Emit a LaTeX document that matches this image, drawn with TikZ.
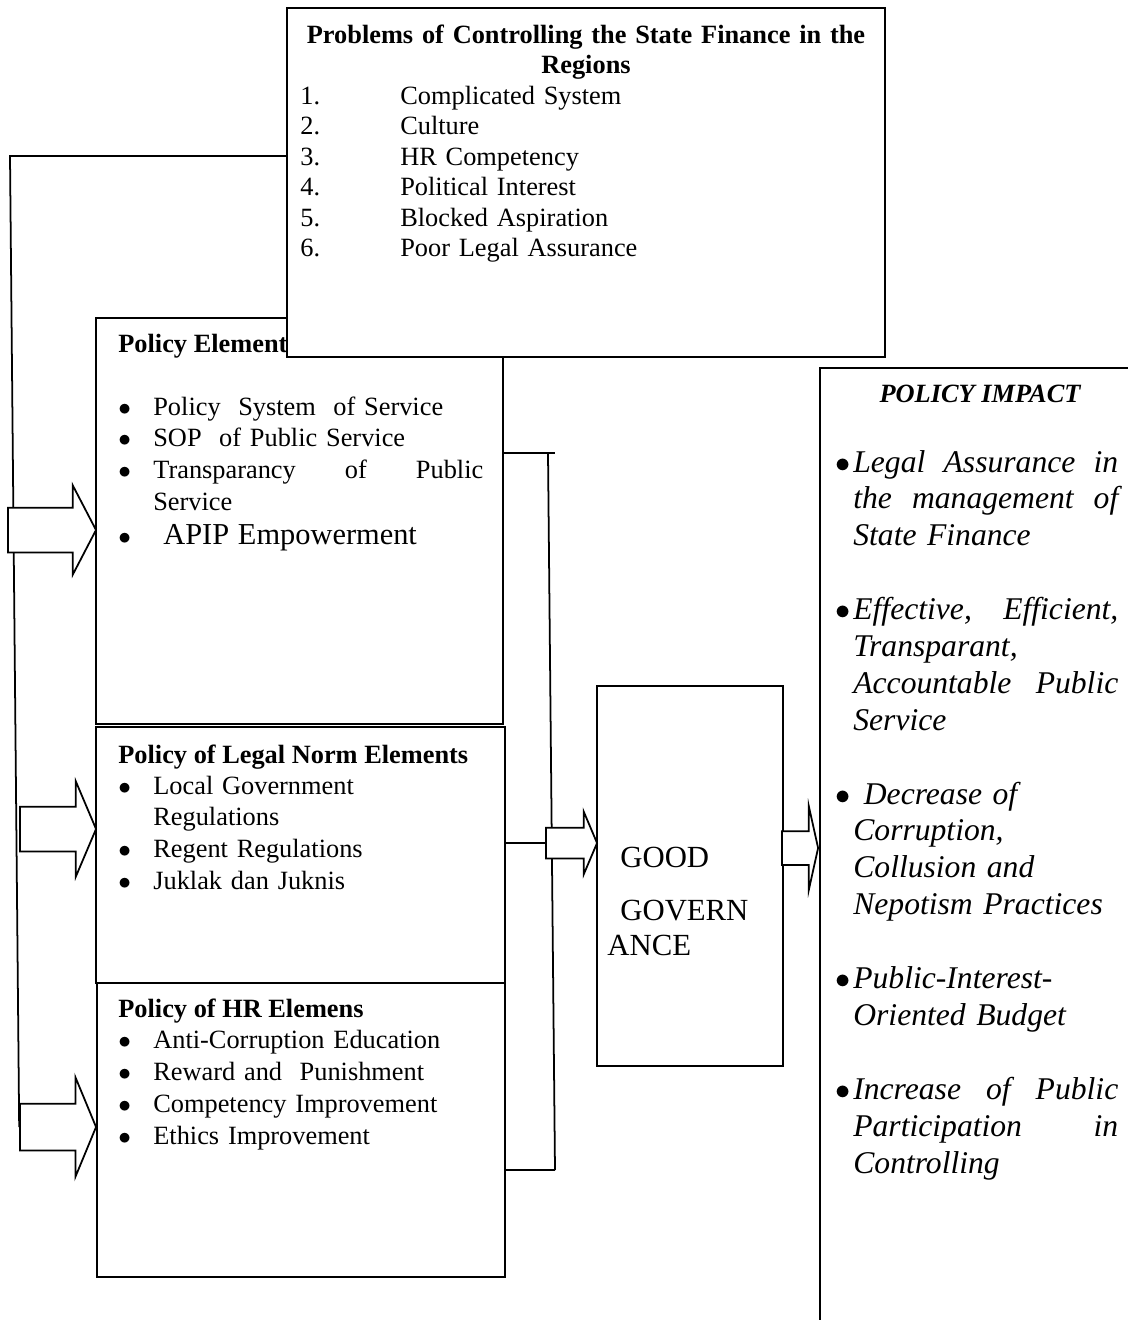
\documentclass[tikz,border=0pt]{standalone}
\usepackage{fontspec}
\setmainfont{Liberation Serif}
\usepackage{tikz}
\usetikzlibrary{shapes.arrows,positioning,calc,backgrounds}
\newcommand{\bul}{\makebox[0.7cm][l]{$\bullet$}}
\newcommand{\itemind}{\hspace*{0.7cm}}
\newcommand{\ibul}{\makebox[0.36cm][l]{\fontsize{17}{17}\selectfont$\bullet$}}
\newcommand{\iind}{\hspace*{0.36cm}}
\tikzset{
  box/.style={rectangle,draw=black,fill=white,inner sep=0pt,line width=1pt},
  fatarrow/.style={single arrow,draw=black,fill=white,inner xsep=0pt,line width=1pt,anchor=tip},
  link/.style={line width=1pt,draw=black},
  boxtitle/.style={font=\fontsize{15}{17.4}\selectfont\bfseries,inner sep=0pt,anchor=base west},
  itemlist/.style={font=\fontsize{15}{18.2}\selectfont,align=left,text width=8cm,inner sep=0pt,anchor=base west},
}
\begin{document}
\begin{tikzpicture}[x=0.02cm,y=-0.02cm,
  impactlist/.style={font=\fontsize{18}{21}\selectfont\itshape,align=left,text width=5.9cm,
    inner sep=0pt,anchor=base west},
]
  \useasboundingbox (0,0) rectangle (1128,1320);

  \node[box,minimum width=8.14cm,minimum height=8.12cm] (elem) at (299.5,521) {};
  \node[boxtitle] (elemtitle) at (118,352) {Policy Elements};
  \node[itemlist] (elemlist) at (118,415) {\bul Policy\ \ System\ \ of Service\\
    \bul SOP\ \ of Public Service\\
    \bul\makebox[6.6cm]{Transparancy\hfill of\hfill Public}\\
    \itemind Service\\[1pt]
    \makebox[0.9cm][l]{$\bullet$}{\fontsize{17.3}{18.2}\selectfont APIP Empowerment}};

  \node[box,minimum width=8.18cm,minimum height=5.12cm] (legal) at (300.5,855) {};
  \node[boxtitle] (legaltitle) at (118,763) {Policy of Legal Norm Elements};
  \node[itemlist] (legallist) at (118,794) {\bul Local Government\\
    \itemind Regulations\\
    \bul Regent Regulations\\
    \bul Juklak dan Juknis};

  \node[box,minimum width=8.16cm,minimum height=5.88cm] (hr) at (301,1130) {};
  \node[boxtitle] (hrtitle) at (118,1017) {Policy of HR Elemens};
  \node[itemlist,font=\fontsize{15}{18.4}\selectfont] (hrlist) at (118,1048) {\bul Anti-Corruption Education\\
    \bul Reward and\ \ Punishment\\
    \bul Competency Improvement\\
    \bul Ethics Improvement};

  \node[box,minimum width=11.96cm,minimum height=6.98cm] (problems) at (586,182.5) {};
  \node[boxtitle,anchor=base,align=center,text width=11.6cm] (probtitle) at (586,43)
    {Problems of Controlling the State Finance in the\\Regions};
  \node[itemlist,font=\fontsize{15}{17.4}\selectfont] (problist) at (300,104) {\makebox[2cm][l]{1.}Complicated System\\
    \makebox[2cm][l]{2.}Culture\\
    \makebox[2cm][l]{3.}HR Competency\\
    \makebox[2cm][l]{4.}Political Interest\\
    \makebox[2cm][l]{5.}Blocked Aspiration\\
    \makebox[2cm][l]{6.}Poor Legal Assurance};

  \node[box,minimum width=3.72cm,minimum height=7.6cm] (gg) at (690,876) {};
  \node[itemlist,font=\fontsize{17.5}{19.4}\selectfont,text width=3.6cm] (ggtext) at (607,867)
    {\hspace*{0.26cm}GOOD\\[11.3pt]\hspace*{0.26cm}GOVERN\\ANCE};

  \node[box,minimum width=6.6cm,minimum height=19.44cm] (impact) at (985,854) {};
  \node[boxtitle,anchor=base,font=\fontsize{15}{17.4}\selectfont\bfseries\itshape] (impacttitle) at (980,402) {POLICY IMPACT};
  \node[impactlist] (impactlist) at (835,472) {\ibul\makebox[5.3cm]{Legal\hfill Assurance\hfill in}\\
    \iind\makebox[5.3cm]{the\hfill management\hfill of}\\
    \iind State Finance\\[21pt]
    \ibul\makebox[5.3cm]{Effective,\hfill Efficient,}\\
    \iind Transparant,\\
    \iind\makebox[5.3cm]{Accountable\hfill Public}\\
    \iind Service\\[21pt]
    \ibul\ Decrease of\\
    \iind Corruption,\\
    \iind Collusion and\\
    \iind Nepotism Practices\\[21pt]
    \ibul Public-Interest-\\
    \iind Oriented Budget\\[21pt]
    \ibul\makebox[5.3cm]{Increase\hfill of\hfill Public}\\
    \iind\makebox[5.3cm]{Participation\hfill in}\\
    \iind Controlling};

  \node[fatarrow,minimum height=1.76cm,inner ysep=0.43cm,single arrow head extend=0.45cm,
    single arrow tip angle=125] (ar1) at (97,530) {};
  \node[fatarrow,minimum height=1.52cm,inner ysep=0.43cm,single arrow head extend=0.51cm,
    single arrow tip angle=134] (ar2) at (97,829) {};
  \node[fatarrow,minimum height=1.52cm,inner ysep=0.45cm,single arrow head extend=0.53cm,
    single arrow tip angle=135] (ar3) at (97,1127) {};
  \node[fatarrow,minimum height=1.02cm,inner ysep=0.29cm,single arrow head extend=0.32cm,
    single arrow tip angle=134] (argg) at (598,843) {};
  \node[fatarrow,minimum height=0.72cm,inner ysep=0.32cm,single arrow head extend=0.5cm,
    single arrow tip angle=155] (arimpact) at (819,848) {};

  \coordinate (lcorner) at (10,156);
  \coordinate (brstart) at (548,453);
  \coordinate (brtop) at (555,453);
  \coordinate (brbot) at (555,1170);
  \begin{scope}[on background layer]
    \draw[link] (problems.west |- lcorner) -- (lcorner) -- (ar3.tail);
    \draw[link] (elem.east |- brtop) -- (brtop);
    \draw[link] (brstart) -- (brbot);
    \draw[link] (hr.east |- brbot) -- (brbot);
    \draw[link] (legal.east |- argg.tail) -- (argg.tail);
  \end{scope}
\end{tikzpicture}
\end{document}
